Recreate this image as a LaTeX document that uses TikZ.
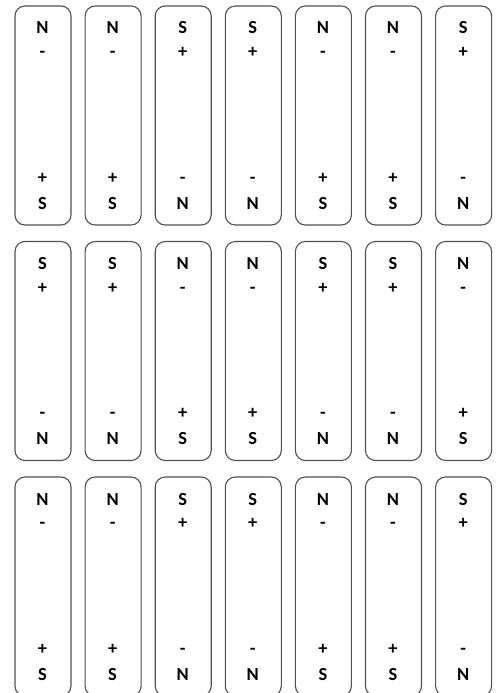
\documentclass[tikz,border=0pt]{standalone}
\usepackage{fontspec}
\setmainfont{Carlito}
\definecolor{magnetgray}{RGB}{80,80,80}

\begin{document}
\begin{tikzpicture}[x=1bp,y=-1bp,line cap=round,line join=round]
    \useasboundingbox (0,0) rectangle (503,693);
    \tikzset{
        magnet/.style={draw=magnetgray,line width=1.1bp,rounded corners=10bp},
        pole/.style={font=\bfseries\fontsize{18.5}{20}\selectfont,inner sep=0pt,anchor=base}
    }

    % Imanes: tres filas de siete barras
    \foreach \r/\top/\rflip in {1/6/0,2/241.5/1,3/477/0}{
        \foreach \c/\flip in {1/0,2/0,3/1,4/1,5/0,6/0,7/1}{
            \pgfmathsetmacro\x{15+70.1*(\c-1)}
            \pgfmathtruncatemacro\s{mod(\flip+\rflip,2)}
            \draw[magnet] (\x,\top) rectangle (\x+56,\top+219);
            % Polos y signos
            \node[pole] (up-\r-\c) at (\x+27.5,\top+28) {\ifnum\s=0 N\else S\fi};
            \node[pole] (upsign-\r-\c) at (\x+27.5,\top+51.5) {\ifnum\s=0 -\else +\fi};
            \node[pole] (downsign-\r-\c) at (\x+27.5,\top+177) {\ifnum\s=0 +\else -\fi};
            \node[pole] (down-\r-\c) at (\x+27.5,\top+203) {\ifnum\s=0 S\else N\fi};
        }
    }
\end{tikzpicture}
\end{document}
